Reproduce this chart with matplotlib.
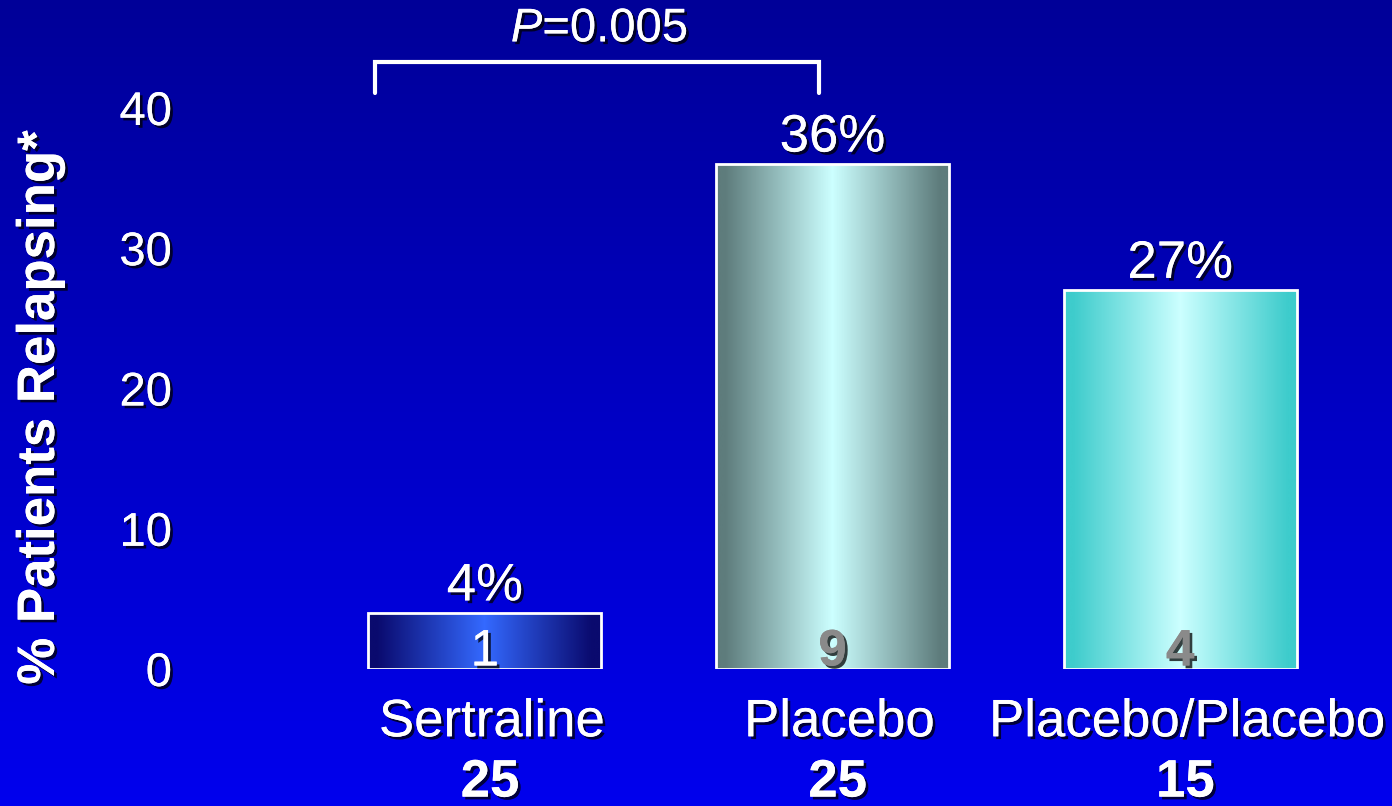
import numpy as np
import matplotlib
matplotlib.use("Agg")
import matplotlib.pyplot as plt
import matplotlib.patheffects as pe
from matplotlib.colors import LinearSegmentedColormap

plt.rcParams["font.family"] = ["Liberation Sans", "DejaVu Sans"]
plt.rcParams["mathtext.fontset"] = "custom"
plt.rcParams["mathtext.rm"] = "Liberation Sans"
plt.rcParams["mathtext.it"] = "Liberation Sans:italic"
plt.rcParams["mathtext.bf"] = "Liberation Sans:bold"

# Data
groups = ["Sertraline", "Placebo", "Placebo/Placebo"]
n_total = [25, 25, 15]
n_relapsed = [1, 9, 4]
pct_relapsed = [4, 36, 27]
yticks = [0, 10, 20, 30, 40]
p_label = r"$\mathit{P}$=0.005"

# Bar gradient colours: (edge, centre)
bar_colors = [("#0a0a6e", "#3469ff"), ("#5e7c7c", "#ccffff"), ("#3ecccc", "#ccffff")]
inner_colors = ["white", "#8a8a8a", "#8a8a8a"]
inner_weight = ["normal", "bold", "bold"]

W, H, DPI = 1392, 806, 100
fig = plt.figure(figsize=(W / DPI, H / DPI), dpi=DPI)

# Background vertical gradient
bg = fig.add_axes([0, 0, 1, 1], zorder=-10)
grad = np.linspace(0, 1, 256).reshape(-1, 1)
bg_cmap = LinearSegmentedColormap.from_list("bg", ["#000098", "#0000ee"])
bg.imshow(grad, aspect="auto", cmap=bg_cmap, extent=(0, 1, 0, 1), origin="upper")
bg.set_axis_off()

ax = fig.add_axes([311 / W, (H - 669) / H, 1043 / W, 669 / H])
ax.set_facecolor("none")
for s in ax.spines.values():
    s.set_visible(False)

shadow = [pe.withSimplePatchShadow(offset=(2, -2), shadow_rgbFace="black", alpha=0.75), pe.Normal()]

x = np.arange(len(groups))
bar_w = 0.67
bars = ax.bar(x, pct_relapsed, width=bar_w, facecolor="none", edgecolor="white",
              linewidth=2, zorder=3)

# Horizontal gradient fill inside each bar
t = np.linspace(-1, 1, 300)
prof = np.clip(np.abs(t) * 1.08, 0, 1).reshape(1, -1)
for b, (edge, centre) in zip(bars, bar_colors):
    cm = LinearSegmentedColormap.from_list("g", [centre, edge])
    x0 = b.get_x()
    im = ax.imshow(prof, cmap=cm, vmin=0, vmax=1, aspect="auto",
                   extent=(x0, x0 + b.get_width(), 0, b.get_height()), zorder=2)
    im.set_clip_path(b)

ax.set_aspect("auto")
ax.set_xlim(-0.5, 2.5)
ax.set_ylim(0, 47.7)

# Value labels
for xi, v in zip(x, pct_relapsed):
    ax.annotate(f"{v}%", (xi, v), xytext=(0, 9), textcoords="offset points",
                ha="center", va="baseline", color="white", fontsize=38,
                path_effects=shadow, zorder=5)

for xi, n, c, w in zip(x, n_relapsed, inner_colors, inner_weight):
    ax.text(xi, 0.25, str(n), ha="center", va="baseline", color=c, fontsize=37,
            fontweight=w, path_effects=shadow, zorder=5)

# Group names and totals
ax.set_xticks([])
for xi, g, n in zip(x, groups, n_total):
    ax.text(xi + 0.02, -3.8, g, ha="center", va="center", color="white", fontsize=38,
            path_effects=shadow, clip_on=False)
    ax.text(xi + 0.015, -8.1, str(n), ha="center", va="center", color="white", fontsize=38,
            fontweight="bold", path_effects=shadow, clip_on=False)

# Y axis
ax.set_yticks(yticks)
ax.set_yticklabels([str(v) for v in yticks])
ax.tick_params(axis="y", length=0, pad=100, labelsize=34, labelcolor="white")
for lbl in ax.get_yticklabels():
    lbl.set_path_effects(shadow)

fig.text(40 / W, 1 - 408 / H, "% Patients Relapsing*", rotation=90,
         ha="center", va="center", color="white", fontsize=38, fontweight="bold",
         path_effects=shadow)

# Significance bracket
bx0, bx1 = -0.317, 1 - 0.039
ytop, ybot = 43.3, 41.1
ax.plot([bx0, bx0, bx1, bx1], [ybot, ytop, ytop, ybot], color="white", lw=3,
        solid_capstyle="round", solid_joinstyle="miter", clip_on=False, zorder=5)
ax.text(0.33, 45.6, p_label, ha="center", va="center", color="white", fontsize=34,
        path_effects=shadow, clip_on=False)

fig.savefig("out.png", dpi=DPI)
